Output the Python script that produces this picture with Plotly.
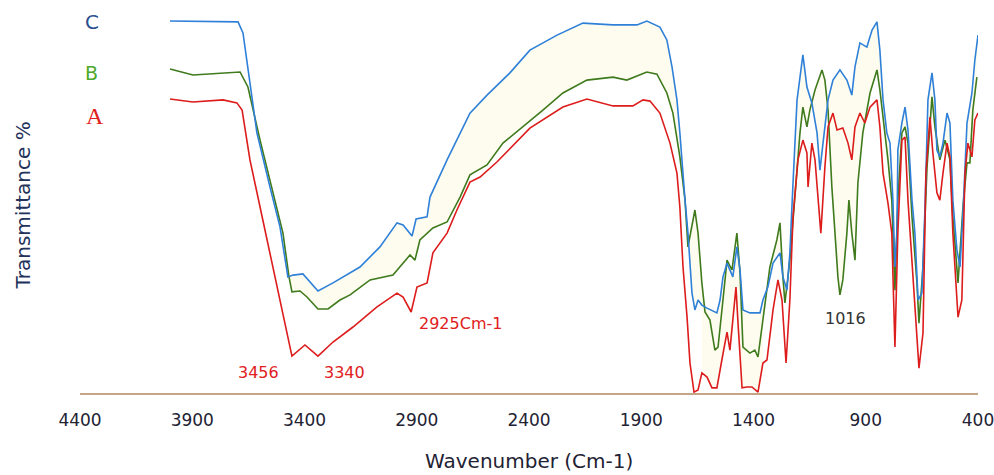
import plotly.graph_objects as go

# ---- Curve C (blue) ----
wn_c = [3999, 3696, 3674, 3652, 3612, 3554, 3509, 3474, 3451, 3407, 3340, 3273, 3153, 3064, 2988, 2961,
        2921, 2903, 2854, 2841, 2765, 2663, 2587, 2485, 2396, 2275, 2160, 2026, 1919, 1875, 1817, 1786,
        1763, 1741, 1728, 1705, 1692, 1674, 1661, 1647, 1630, 1607, 1563, 1549, 1536, 1518, 1505, 1492,
        1474, 1460, 1447, 1416, 1371, 1358, 1336, 1313, 1282, 1269, 1251, 1238, 1224, 1206, 1180, 1162,
        1140, 1117, 1104, 1095, 1082, 1068, 1046, 1015, 984, 962, 948, 926, 895, 872, 850, 837, 823, 806,
        792, 779, 770, 761, 757, 739, 725, 712, 694, 681, 667, 650, 636, 623, 605, 592, 583, 570, 556,
        538, 525, 512, 494, 480, 467, 449, 427, 414, 400]
t_c = [124.0, 123.7, 120.0, 108.7, 86.7, 68.7, 55.3, 38.7, 39.3, 39.7, 34.0, 36.7, 42.0, 48.7, 56.7, 56.0,
       52.3, 58.0, 58.7, 65.3, 77.7, 93.3, 99.3, 106.7, 114.3, 119.3, 123.3, 122.7, 122.7, 124.0, 122.0, 117.7,
       108.7, 97.7, 86.7, 64.3, 53.3, 33.3, 27.7, 31.0, 29.3, 28.3, 26.7, 31.0, 38.7, 43.3, 41.0, 38.7,
       48.7, 41.0, 27.7, 26.7, 26.7, 31.0, 35.3, 43.3, 46.7, 38.7, 34.3, 46.7, 70.0, 97.7, 112.7, 102.0,
       96.7, 86.7, 74.3, 81.0, 88.7, 97.7, 104.3, 107.7, 104.3, 99.3, 108.7, 116.7, 115.3, 121.0, 123.7, 114.3, 97.7, 86.7,
       83.3, 64.3, 42.0, 53.3, 81.0, 90.0, 95.3, 87.7, 64.3, 53.3, 31.0, 33.3, 62.0, 97.7, 106.7, 97.7, 81.0, 78.7, 83.3,
       93.3, 90.0, 64.3, 47.7, 42.0, 60.0, 90.0, 100.0, 111.0, 119.3]

# ---- Curve B (green) ----
wn_b = [3999, 3897, 3687, 3652, 3598, 3540, 3496, 3469, 3456, 3420, 3389, 3340, 3295, 3242, 3197, 3108,
        3006, 2930, 2908, 2886, 2828, 2765, 2707, 2663, 2587, 2516, 2427, 2338, 2249, 2142, 2026, 1964,
        1875, 1830, 1786, 1759, 1728, 1705, 1692, 1674, 1661, 1647, 1630, 1616, 1594, 1572, 1558, 1536,
        1518, 1496, 1474, 1460, 1447, 1416, 1394, 1380, 1358, 1327, 1296, 1282, 1269, 1260, 1238, 1215,
        1193, 1180, 1162, 1149, 1126, 1095, 1082, 1068, 1051, 1037, 1024, 1015, 1002, 984, 975, 962, 948,
        935, 913, 881, 850, 837, 815, 801, 784, 770, 757, 739, 725, 712, 694, 672, 663, 645, 627, 605,
        592, 570, 547, 525, 512, 489, 467, 449, 436, 423, 405]
t_b = [108.0, 106.0, 107.0, 102.0, 84.3, 66.7, 53.3, 38.7, 33.7, 34.0, 32.0, 28.0, 28.0, 31.0, 32.7, 37.7,
       39.3, 46.0, 44.3, 51.0, 55.0, 57.0, 65.3, 72.7, 76.0, 83.3, 88.7, 94.3, 100.0, 104.3, 105.3, 104.3,
       107.0, 106.3, 100.0, 93.3, 78.7, 64.3, 48.7, 56.7, 61.0, 53.3, 36.7, 27.0, 24.3, 14.3, 15.3, 31.0,
       44.3, 41.0, 53.3, 40.0, 15.3, 13.3, 14.3, 12.0, 24.3, 42.0, 51.0, 56.7, 38.7, 30.0, 44.3, 66.7,
       86.7, 95.3, 88.7, 94.3, 101.0, 107.7, 104.3, 94.3, 68.7, 53.3, 38.7, 32.7, 37.7, 53.3, 64.3, 53.3, 44.3,
       70.0, 86.7, 100.0, 107.7, 101.0, 86.7, 77.7, 64.3, 34.3, 64.3, 86.7, 88.7, 83.3, 58.7, 36.7, 23.3, 42.0, 75.3, 98.7,
       88.7, 77.7, 84.3, 77.7, 58.7, 36.7, 62.0, 76.7, 76.7, 94.3, 105.3]

# ---- Curve A (red) ----
wn_a = [3999, 3897, 3763, 3701, 3678, 3643, 3598, 3554, 3509, 3478, 3456, 3398, 3340, 3273, 3184, 3077,
        2988, 2961, 2925, 2899, 2854, 2828, 2765, 2721, 2663, 2618, 2543, 2396, 2249, 2142, 2026, 1937,
        1892, 1861, 1817, 1772, 1741, 1728, 1714, 1696, 1683, 1665, 1647, 1630, 1607, 1585, 1563, 1541,
        1518, 1505, 1492, 1478, 1469, 1451, 1429, 1407, 1380, 1358, 1340, 1313, 1291, 1273, 1255, 1238,
        1224, 1202, 1180, 1162, 1157, 1140, 1126, 1113, 1100, 1082, 1068, 1046, 1028, 1002, 979, 962,
        948, 926, 904, 881, 850, 837, 823, 801, 784, 770, 757, 739, 725, 712, 690, 672, 663, 645, 632,
        614, 601, 583, 570, 556, 538, 525, 512, 489, 472, 458, 445, 427, 414, 400]
t_a = [98.0, 97.0, 97.7, 96.7, 94.3, 77.7, 62.0, 46.7, 31.0, 20.0, 12.3, 16.0, 12.3, 17.0, 22.0, 28.7,
       33.3, 32.0, 27.0, 35.3, 36.7, 46.7, 53.3, 61.0, 70.3, 72.0, 77.0, 88.3, 95.3, 98.0, 95.7, 95.7,
       97.7, 97.3, 93.3, 83.3, 73.3, 62.0, 42.0, 25.3, 10.0, 0.3, 1.0, 6.7, 5.3, 1.7, 1.7, 11.0,
       20.3, 14.3, 25.3, 35.3, 23.3, 1.7, 2.0, 2.0, 0.3, 10.0, 11.0, 27.7, 37.7, 31.0, 10.0, 31.0,
       58.7, 77.7, 84.3, 80.0, 68.7, 83.3, 77.7, 64.3, 53.3, 75.3, 88.7, 93.3, 87.7, 88.3, 83.3, 77.7,
       88.7, 93.3, 90.0, 95.3, 97.7, 88.7, 73.3, 63.3, 53.3, 15.3, 53.3, 84.3, 85.3, 64.3, 38.7, 20.0, 8.3, 20.0, 73.3,
       92.0, 80.0, 66.7, 64.3, 73.3, 83.3, 78.7, 53.3, 25.3, 31.0, 73.3, 83.3, 78.7, 91.0, 93.3]

tick_vals = [4400, 3900, 3400, 2900, 2400, 1900, 1400, 900, 400]
tick_text = [str(v) for v in tick_vals]

peak_labels = ["3456", "3340", "2925Cm-1", "1016"]
peak_label_x = [3607, 3220, 2707, 988]
peak_label_y = [7, 7, 23.3, 25]
peak_label_colors = ["#E02020", "#E02020", "#E02020", "#333333"]

series_names = ["C", "B", "A"]
series_label_x = [4347, 4347, 4335]
series_label_y = [123.7, 106.7, 92.5]

# shaded bands (wavenumber limits)
band_cb = (3475, 400)    # between C and B
band_ba = (1640, 1355)   # between B and A

BLUE = "#2F80D8"
GREEN = "#3F7A1C"
RED = "#DD1C1C"
FILL = "#FDFCEE"


def band(wn1, t1, wn2, t2, lo_hi):
    hi, lo = lo_hi
    p1 = [(w, t) for w, t in zip(wn1, t1) if lo <= w <= hi]
    p2 = [(w, t) for w, t in zip(wn2, t2) if lo <= w <= hi]
    pts = p1 + p2[::-1]
    return [p[0] for p in pts], [p[1] for p in pts]


fig = go.Figure()
for (wa, ta, wb, tb, rng) in [(wn_c, t_c, wn_b, t_b, band_cb), (wn_b, t_b, wn_a, t_a, band_ba)]:
    bx, by = band(wa, ta, wb, tb, rng)
    fig.add_trace(go.Scatter(x=bx, y=by, mode="lines", fill="toself", fillcolor=FILL,
                             line=dict(width=0, color=FILL), hoverinfo="skip"))

fig.add_trace(go.Scatter(x=wn_b, y=t_b, mode="lines", name="B",
                         line=dict(color=GREEN, width=1.6), hoverinfo="skip"))
fig.add_trace(go.Scatter(x=wn_c, y=t_c, mode="lines", name="C",
                         line=dict(color=BLUE, width=1.6), hoverinfo="skip"))
fig.add_trace(go.Scatter(x=wn_a, y=t_a, mode="lines", name="A",
                         line=dict(color=RED, width=1.6), hoverinfo="skip"))

for txt, x, y, c in zip(peak_labels, peak_label_x, peak_label_y, peak_label_colors):
    fig.add_annotation(x=x, y=y, xref="x", yref="y", text=txt, showarrow=False,
                       font=dict(family="DejaVu Sans", size=16, color=c))

label_styles = [
    dict(family="DejaVu Sans", size=20, color="#2B4F8E"),
    dict(family="DejaVu Sans", size=19, color="#4DAA2A"),
    dict(family="Liberation Serif", size=24, color="#E02020"),
]
for txt, x, y, f in zip(series_names, series_label_x, series_label_y, label_styles):
    fig.add_annotation(x=x, y=y, xref="x", yref="y", text=txt, showarrow=False, font=f)

fig.add_annotation(xref="paper", yref="paper", x=0, y=0.5, xshift=-58, xanchor="center",
                   yanchor="middle", text="Transmittance %", textangle=-90, showarrow=False,
                   font=dict(family="DejaVu Sans", size=20, color="#23325A"))
fig.add_annotation(xref="paper", yref="paper", x=0.5, y=0, yshift=-68, xanchor="center",
                   yanchor="middle", text="Wavenumber (Cm-1)", showarrow=False,
                   font=dict(family="DejaVu Sans", size=20, color="#222233"))

fig.update_layout(
    width=994, height=475,
    margin=dict(l=80, r=16, t=18, b=82, autoexpand=False),
    paper_bgcolor="white", plot_bgcolor="white",
    showlegend=False,
    xaxis=dict(range=[4400, 400], tickvals=tick_vals, ticktext=tick_text, showgrid=False,
               zeroline=False, showline=True, linecolor="#C4A585", linewidth=2, ticks="",
               ticklabelstandoff=11, ticklabeloverflow="allow", automargin=False,
               tickfont=dict(family="DejaVu Sans", size=17, color="#222233")),
    yaxis=dict(range=[0, 125], showgrid=False, zeroline=False, showline=False,
               showticklabels=False, ticks="", automargin=False),
)

fig.write_html("out.html")
